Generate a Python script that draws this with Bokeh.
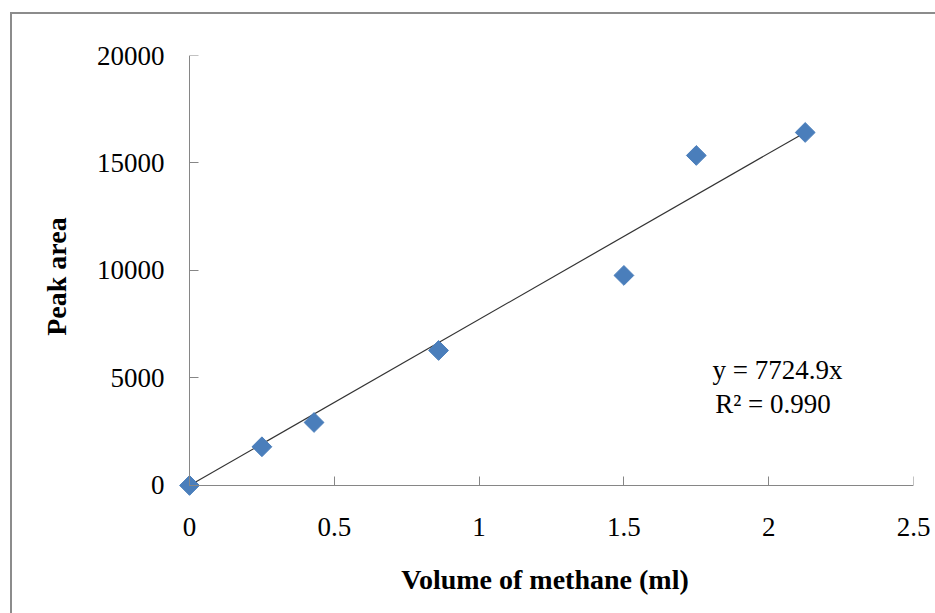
import numpy as np
from bokeh.plotting import figure
from bokeh.models import Range1d, FixedTicker, Label, LinearAxis
from bokeh.embed import file_html
from bokeh.resources import INLINE

# data
volume_ml = [0.0, 0.25, 0.43, 0.86, 1.5, 1.75, 2.126]
peak_area = [0, 1800, 2930, 6280, 9770, 15350, 16420]
slope = 7724.9
r_squared = 0.990
x_ticks = [0, 0.5, 1, 1.5, 2, 2.5]
x_tick_labels = ["0", "0.5", "1", "1.5", "2", "2.5"]
y_ticks = [0, 5000, 10000, 15000, 20000]
y_tick_labels = ["0", "5000", "10000", "15000", "20000"]

trend_x = [0.0, max(volume_ml)]
trend_y = [slope * v for v in trend_x]

FONT = "Liberation Serif"
AXIS_COLOR = "#868686"

p = figure(width=925, height=601, output_backend="svg", toolbar_location=None,
           x_range=Range1d(-0.045, 2.5), y_range=Range1d(-560, 20000),
           min_border_left=164, min_border_right=24, min_border_top=41,
           min_border_bottom=118)
p.margin = (12, 0, 0, 10)
p.styles = {"border-top": "2px solid #8c8c8c", "border-left": "2px solid #8c8c8c"}
p.outline_line_color = None
p.xgrid.visible = False
p.ygrid.visible = False
p.background_fill_color = "white"
p.border_fill_color = "white"

# label-only axes at the frame edges
for ax in (p.xaxis[0], p.yaxis[0]):
    ax.axis_line_color = None
    ax.major_tick_line_color = None
    ax.minor_tick_line_color = None
    ax.major_tick_in = 0
    ax.major_tick_out = 0
    ax.major_label_text_font = FONT
    ax.major_label_text_font_size = "27px"
    ax.major_label_text_color = "black"
    ax.axis_label_text_font = FONT
    ax.axis_label_text_font_size = "28px"
    ax.axis_label_text_font_style = "bold"
    ax.axis_label_text_color = "black"

p.xaxis.ticker = FixedTicker(ticks=x_ticks)
p.yaxis.ticker = FixedTicker(ticks=y_ticks)
p.xaxis.major_label_overrides = dict(zip(x_ticks, x_tick_labels))
p.yaxis.major_label_overrides = dict(zip(y_ticks, y_tick_labels))
p.xaxis.major_label_standoff = 20
p.yaxis.major_label_standoff = 12
p.xaxis.axis_label = "Volume of methane (ml)"
p.yaxis.axis_label = "Peak area"
p.xaxis.axis_label_standoff = 25
p.yaxis.axis_label_standoff = 22

# line-and-tick axes through the origin
ax_x = LinearAxis(ticker=FixedTicker(ticks=x_ticks), fixed_location=0, bounds=(0, 2.5),
                  axis_line_color=AXIS_COLOR, major_tick_line_color=AXIS_COLOR,
                  major_tick_in=9, major_tick_out=0, minor_tick_line_color=None,
                  major_label_text_font_size="0px", major_label_text_color=None)
ax_y = LinearAxis(ticker=FixedTicker(ticks=y_ticks), fixed_location=0, bounds=(0, 20000),
                  axis_line_color=AXIS_COLOR, major_tick_line_color=AXIS_COLOR,
                  major_tick_in=9, major_tick_out=0, minor_tick_line_color=None,
                  major_label_text_font_size="0px", major_label_text_color=None)
p.add_layout(ax_x, "below")
p.add_layout(ax_y, "left")

p.line(trend_x, trend_y, line_color="#333333", line_width=1.2)
p.scatter(volume_ml, peak_area, marker="square", angle=np.pi / 4, size=14,
          fill_color="#4a7ebb", line_color="#4a7ebb")

p.add_layout(Label(x=2.03, y=5350, text=f"y = {slope}x", text_align="center",
                   text_baseline="middle", text_font=FONT, text_font_size="27px",
                   text_color="black"))
p.add_layout(Label(x=2.015, y=3800, text=f"R² = {r_squared:.3f}", text_align="center",
                   text_baseline="middle", text_font=FONT, text_font_size="27px",
                   text_color="black"))

open("out.html", "w").write(file_html(p, INLINE))
